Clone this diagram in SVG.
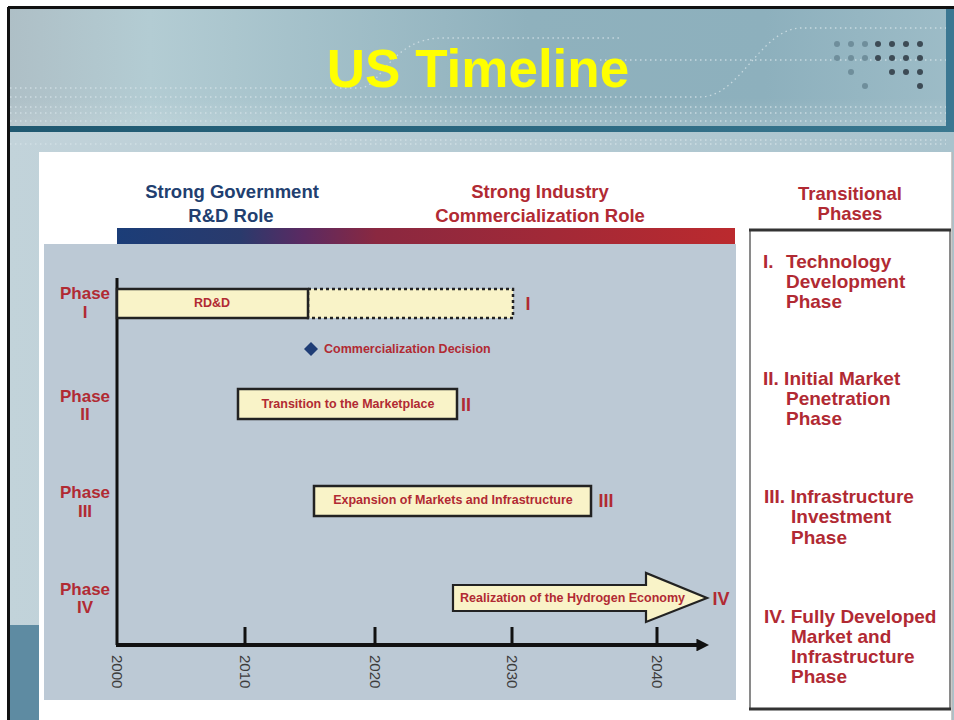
<svg xmlns="http://www.w3.org/2000/svg" width="954" height="720" viewBox="0 0 954 720">
  <defs>
    <linearGradient id="hdr" x1="0" y1="0" x2="1" y2="0">
      <stop offset="0" stop-color="#aebfc6"/>
      <stop offset="0.15" stop-color="#b3ccd3"/>
      <stop offset="0.55" stop-color="#8fb1bd"/>
      <stop offset="0.8" stop-color="#8db0bd"/>
      <stop offset="1" stop-color="#9dbcc7"/>
    </linearGradient>
    <linearGradient id="hdrV" x1="0" y1="0" x2="0" y2="1">
      <stop offset="0" stop-color="#ffffff" stop-opacity="0"/>
      <stop offset="0.75" stop-color="#ffffff" stop-opacity="0"/>
      <stop offset="1" stop-color="#ffffff" stop-opacity="0.15"/>
    </linearGradient>
    <linearGradient id="band" x1="0" y1="0" x2="1" y2="0">
      <stop offset="0" stop-color="#1f5870"/>
      <stop offset="0.5" stop-color="#2b6780"/>
      <stop offset="1" stop-color="#3a7890"/>
    </linearGradient>
    <linearGradient id="low" x1="0" y1="0" x2="1" y2="0">
      <stop offset="0" stop-color="#c2d3da"/>
      <stop offset="1" stop-color="#a9c3cd"/>
    </linearGradient>
    <linearGradient id="role" x1="0" y1="0" x2="1" y2="0">
      <stop offset="0" stop-color="#1b3d78"/>
      <stop offset="0.2" stop-color="#2a3a6c"/>
      <stop offset="0.3" stop-color="#5a2a62"/>
      <stop offset="0.42" stop-color="#8a2840"/>
      <stop offset="1" stop-color="#bb2a2e"/>
    </linearGradient>
    <marker id="ah" viewBox="0 0 10 10" refX="2" refY="5" markerWidth="3.2" markerHeight="3.2" orient="auto">
      <path d="M0,0 L10,5 L0,10 z" fill="#111"/>
    </marker>
  </defs>
  <style>
    .red{fill:#b12a33;font-family:"Liberation Sans",Arial,sans-serif}
    .hd{font-size:18.5px;font-weight:bold;text-anchor:middle}
    .li{font-size:19px;font-weight:bold}
    .ph{font-size:17px;font-weight:bold;text-anchor:middle}
    .bx{font-size:12.5px;font-weight:bold}
    .num{font-size:18px;font-weight:bold}
    .bar{fill:#f9f3c8;stroke:#222;stroke-width:2.5}
    .yr{fill:#3c3c3c;font-family:"Liberation Sans",Arial,sans-serif;font-size:15px}
    .tick{stroke:#111;stroke-width:3}
    .dot{fill:#3d4b55}
    .ldot{fill:#6f8e9b}
    .dl{stroke:#d4e2e7;stroke-width:1.3;stroke-dasharray:1.5 3.5;fill:none;opacity:0.8}
  </style>

  <!-- background slide -->
  <rect x="0" y="0" width="954" height="720" fill="#ffffff"/>
  <rect x="8" y="8" width="946" height="712" fill="url(#low)"/>
  <rect x="8" y="8" width="946" height="120" fill="url(#hdr)"/>
  <rect x="8" y="8" width="946" height="120" fill="url(#hdrV)"/>
  <g id="decor">
    <path class="dl" d="M10,88 H360 C380,88 390,40 440,38 H620"/>
    <path class="dl" d="M10,97 H700 C740,97 760,30 800,28 H946"/>
    <path class="dl" d="M10,107 H946"/>
    <path class="dl" d="M10,113 H946"/>
    <path class="dl" d="M10,121 H946"/>
    <path class="dl" d="M600,60 H946"/>
    <path class="dl" d="M330,140 H946"/>
    <path class="dl" d="M10,144 H946"/>
    <circle class="ldot" cx="837" cy="44" r="3"/><circle class="ldot" cx="851" cy="44" r="3"/><circle class="ldot" cx="865" cy="44" r="3"/><circle class="dot" cx="878" cy="44" r="3"/><circle class="dot" cx="892" cy="44" r="3"/><circle class="dot" cx="906" cy="44" r="3"/><circle class="dot" cx="920" cy="44" r="3"/>
    <circle class="ldot" cx="837" cy="58" r="3"/><circle class="ldot" cx="851" cy="58" r="3"/><circle class="ldot" cx="865" cy="58" r="3"/><circle class="dot" cx="878" cy="58" r="3"/><circle class="dot" cx="892" cy="58" r="3"/><circle class="dot" cx="906" cy="58" r="3"/><circle class="dot" cx="920" cy="58" r="3"/>
    <circle class="ldot" cx="851" cy="72" r="3"/><circle class="dot" cx="892" cy="72" r="3"/><circle class="dot" cx="906" cy="72" r="3"/><circle class="dot" cx="920" cy="72" r="3"/>
    <circle class="ldot" cx="865" cy="86" r="3"/><circle class="dot" cx="920" cy="86" r="3"/>
  </g>
  <rect x="8" y="126" width="946" height="6" fill="url(#band)"/>
  <rect x="946" y="8" width="8" height="120" fill="#3b7792"/>
  <rect x="8" y="625" width="32" height="95" fill="#5e8ba2"/>
  <path d="M8,7.5 H954 M8.5,7 V720" stroke="#111" stroke-width="3" fill="none"/>

  <text x="478" y="87" font-family="'Liberation Sans',Arial,sans-serif" font-size="53" font-weight="bold" fill="#ffff00" text-anchor="middle">US Timeline</text>

  <!-- white content panel -->
  <rect x="39" y="152" width="913" height="568" fill="#ffffff"/>
  <line x1="952" y1="152" x2="952" y2="720" stroke="#b8b8b8" stroke-width="1.5"/>

  <!-- roles -->
  <g id="gov-role">
    <text x="232" y="198" class="hd" fill="#223f70" font-family="'Liberation Sans',Arial,sans-serif">Strong Government</text>
    <text x="231" y="222" class="hd" fill="#223f70" font-family="'Liberation Sans',Arial,sans-serif">R&amp;D Role</text>
  </g>
  <g id="ind-role">
    <text x="540" y="198" class="red hd">Strong Industry</text>
    <text x="540" y="222" class="red hd">Commercialization Role</text>
  </g>
  <rect x="117" y="228" width="618" height="16" fill="url(#role)"/>

  <!-- chart panel -->
  <rect x="44" y="244" width="692" height="456" fill="#bcc9d5"/>

  <!-- phase labels -->
  <g id="phase-labels">
    <text x="85" y="299" class="red ph">Phase</text><text x="85" y="318" class="red ph">I</text>
    <text x="85" y="402" class="red ph">Phase</text><text x="85" y="420" class="red ph">II</text>
    <text x="85" y="498" class="red ph">Phase</text><text x="85" y="517" class="red ph">III</text>
    <text x="85" y="595" class="red ph">Phase</text><text x="85" y="613" class="red ph">IV</text>
  </g>

  <!-- axes -->
  <g id="connectors">
    <line x1="117" y1="278" x2="117" y2="645" stroke="#111" stroke-width="3"/>
    <line x1="116" y1="645" x2="699" y2="645" stroke="#111" stroke-width="4" marker-end="url(#ah)"/>
    <line class="tick" x1="245" y1="627" x2="245" y2="645"/>
    <line class="tick" x1="375" y1="627" x2="375" y2="645"/>
    <line class="tick" x1="512" y1="627" x2="512" y2="645"/>
    <line class="tick" x1="657" y1="627" x2="657" y2="645"/>
  </g>
  <g id="years">
    <text class="yr" transform="translate(112,655) rotate(90)">2000</text>
    <text class="yr" transform="translate(240,655) rotate(90)">2010</text>
    <text class="yr" transform="translate(370,655) rotate(90)">2020</text>
    <text class="yr" transform="translate(507,655) rotate(90)">2030</text>
    <text class="yr" transform="translate(652,655) rotate(90)">2040</text>
  </g>

  <!-- Phase I -->
  <g id="rdd">
    <rect x="308" y="289" width="205" height="29" fill="#f9f3c8" stroke="#222" stroke-width="2.5" stroke-dasharray="3 3"/>
    <rect class="bar" x="117" y="289" width="191" height="29"/>
    <text x="212" y="307" class="red bx" text-anchor="middle">RD&amp;D</text>
    <text x="528" y="310" class="red num" text-anchor="middle">I</text>
  </g>
  <g id="decision">
    <path d="M311,342 L318,349 L311,356 L304,349 Z" fill="#1f3d76"/>
    <text x="324" y="353" class="red bx" font-size="12.8">Commercialization Decision</text>
  </g>
  <g id="transition">
    <rect class="bar" x="238" y="389" width="219" height="30"/>
    <text x="348" y="408" class="red bx" text-anchor="middle">Transition to the Marketplace</text>
    <text x="466" y="411" class="red num" text-anchor="middle">II</text>
  </g>
  <g id="expansion">
    <rect class="bar" x="314" y="486" width="277" height="30"/>
    <text x="453" y="504" class="red bx" text-anchor="middle">Expansion of Markets and Infrastructure</text>
    <text x="606" y="507" class="red num" text-anchor="middle">III</text>
  </g>
  <g id="realization">
    <path d="M453,585 H646 V573 L707,598 L646,622 V611 H453 Z" fill="#f9f3c8" stroke="#222" stroke-width="2.2" stroke-linejoin="miter"/>
    <text x="460" y="602" class="red bx">Realization of the Hydrogen Economy</text>
    <text x="721" y="605" class="red num" text-anchor="middle">IV</text>
  </g>

  <!-- transitional phases box -->
  <g id="phases-box">
    <text x="850" y="200" class="red hd">Transitional</text>
    <text x="850" y="220" class="red hd">Phases</text>
    <rect x="750" y="230" width="200" height="479" fill="#ffffff" stroke="#8a8a8a" stroke-width="2"/>
    <line x1="749" y1="230" x2="951" y2="230" stroke="#333" stroke-width="3"/>
    <line x1="749" y1="709" x2="951" y2="709" stroke="#333" stroke-width="3"/>
    <text class="red li"><tspan x="763" y="268">I.</tspan><tspan x="786" y="268">Technology</tspan><tspan x="786" y="288">Development</tspan><tspan x="786" y="308">Phase</tspan></text>
    <text class="red li"><tspan x="763" y="385">II. Initial Market</tspan><tspan x="786" y="405">Penetration</tspan><tspan x="786" y="425">Phase</tspan></text>
    <text class="red li"><tspan x="764" y="503">III. Infrastructure</tspan><tspan x="791" y="523">Investment</tspan><tspan x="791" y="544">Phase</tspan></text>
    <text class="red li"><tspan x="764" y="623">IV. Fully Developed</tspan><tspan x="791" y="643">Market and</tspan><tspan x="791" y="663">Infrastructure</tspan><tspan x="791" y="683">Phase</tspan></text>
  </g>
</svg>
